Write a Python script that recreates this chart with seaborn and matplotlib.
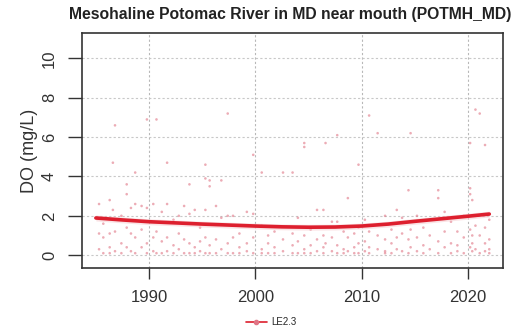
import numpy as np
import pandas as pd
import matplotlib
matplotlib.use("Agg")
import matplotlib.pyplot as plt
from matplotlib.lines import Line2D
import seaborn as sns

title = "Mesohaline Potomac River in MD near mouth (POTMH_MD)"
station = "LE2.3"

# sampling dates (decimal years) and DO readings (mg/L) at each date
sample_years = [1985.3, 1985.7, 1986.3, 1986.6, 1986.8, 1987.4, 1987.9, 1988.3, 1988.7, 1989.3,
                1989.8, 1990.4, 1990.7, 1991.2, 1991.7, 1992.3, 1992.8, 1993.3, 1993.8, 1994.3,
                1994.8, 1995.3, 1995.7, 1996.3, 1996.8, 1997.4, 1997.9, 1998.5, 1999.2, 1999.8,
                2000.6, 2001.2, 2001.8, 2002.6, 2003.5, 2004.0, 2004.6, 2005.2, 2005.8, 2006.4,
                2006.6, 2007.2, 2007.7, 2008.3, 2008.7, 2009.3, 2009.7, 2010.3, 2010.7, 2011.5,
                2012.2, 2012.8, 2013.3, 2013.8, 2014.4, 2014.6, 2015.2, 2015.8, 2016.4, 2017.2,
                2017.8, 2018.4, 2019.0, 2019.6, 2020.2, 2020.4, 2020.7, 2021.1, 2021.6, 2022.0]
sample_do = [[2.6, 1.1, 0.3], [1.6, 0.9, 0.1], [2.8, 1.1, 0.4, 0.1], [4.7, 2.3], [6.6, 1.2, 0.2],
             [2.0, 0.6, 0.1], [3.6, 3.1, 1.4, 0.4], [2.4, 1.1, 0.2], [4.2, 2.6, 0.9, 0.1], [2.5, 1.3, 0.4],
             [6.9, 2.4, 0.6, 0.1], [2.6, 0.9, 0.2], [6.9, 1.2, 0.1], [2.2, 0.7, 0.1], [4.7, 2.6, 0.9, 0.2],
             [1.8, 0.5, 0.1], [2.0, 1.1, 0.3], [2.5, 0.8, 0.1], [3.6, 2.1, 0.6, 0.1], [2.3, 0.4, 0.1],
             [1.4, 0.7, 0.2], [4.6, 3.9, 2.3, 0.9, 0.1], [3.5, 3.8, 0.5, 0.1], [2.5, 0.8, 0.1], [3.8, 1.9, 0.3],
             [7.2, 2.0, 0.6, 0.1], [2.0, 0.9, 0.1], [1.1, 0.4, 0.1], [2.2, 0.6, 0.2], [5.1, 2.1, 0.9, 0.1],
             [4.2, 1.5, 0.3, 0.1], [1.0, 0.6, 0.1], [1.2, 0.4, 0.1], [4.2, 0.8, 0.2], [4.2, 1.1, 0.5, 0.1],
             [1.9, 0.7, 0.1], [5.7, 5.5, 1.0, 0.3, 0.1], [1.3, 0.5, 0.1], [2.3, 0.8, 0.2], [2.3, 1.0, 0.4, 0.1],
             [5.7, 0.6], [1.7, 0.9, 0.2], [6.1, 1.7, 0.5, 0.1], [1.2, 0.3, 0.1], [2.9, 0.9, 0.2],
             [1.1, 0.4, 0.1], [4.6, 1.4, 0.6, 0.1], [1.8, 0.7, 0.2], [7.1, 1.2, 0.4, 0.1], [6.2, 1.0, 0.3],
             [2.0, 0.8, 0.2, 0.1], [1.3, 0.6, 0.1], [2.3, 0.9, 0.3], [1.9, 1.1, 0.2], [3.3, 0.8, 0.1],
             [6.2, 1.3, 0.4], [2.0, 0.9, 0.2], [1.4, 0.5, 0.1], [1.8, 1.0, 0.3], [3.3, 2.9, 0.7, 0.1],
             [2.2, 1.2, 0.4], [1.7, 0.6, 0.1], [1.2, 0.5, 0.2], [2.0, 0.9, 0.1], [5.7, 3.4, 3.1, 1.3, 0.4],
             [2.8, 1.0, 0.6, 0.2], [7.4, 1.5, 0.3], [7.2, 1.0, 0.1], [5.6, 1.4, 0.6, 0.2], [1.8, 0.8, 0.3, 0.1]]

# fitted trend
trend_years = [1985, 1987.5, 1990, 1992.5, 1995, 1997.5, 2000, 2002.5, 2005, 2007.5,
               2010, 2012.5, 2015, 2017.5, 2020, 2022]
trend_do = [1.89, 1.79, 1.70, 1.64, 1.58, 1.53, 1.48, 1.44, 1.42, 1.43,
            1.48, 1.58, 1.72, 1.85, 1.98, 2.09]

x_ticks = [1990, 2000, 2010, 2020]
y_ticks = [0, 2, 4, 6, 8, 10]

rows = [(yr, v) for yr, vals in zip(sample_years, sample_do) for v in vals]
pts = pd.DataFrame(rows, columns=["year", "do"])
trend = pd.DataFrame({"year": trend_years, "do": trend_do})

sns.set_theme(style="white")
plt.rcParams["font.family"] = ["Liberation Sans", "DejaVu Sans"]

fig = plt.figure(figsize=(5.16, 3.29), dpi=100)
ax = fig.add_axes([0.159, 0.185, 0.816, 0.715])

for xv in x_ticks:
    ax.axvline(xv, color="#b8b8b8", lw=0.8, ls=(0, (2, 2)), zorder=0)
for yv in y_ticks:
    ax.axhline(yv, color="#c8c8c8", lw=0.8, ls=(0, (2, 2)), zorder=0)

sns.scatterplot(data=pts, x="year", y="do", ax=ax, s=3.5, color="#e07585",
                edgecolor="none", alpha=0.6, legend=False, zorder=2)
ax.fill_between(trend["year"], trend["do"] - 0.15, trend["do"] + 0.15,
                color="#f6c8cc", alpha=0.5, lw=0, zorder=2)
sns.lineplot(data=trend, x="year", y="do", ax=ax, color="#dd1f2e", lw=2.6,
             legend=False, zorder=3)

ax.set_xlim(1983.7, 2023.3)
ax.set_ylim(-0.66, 11.3)
ax.set_xticks(x_ticks)
ax.set_yticks(y_ticks)
ax.set_xticklabels([str(v) for v in x_ticks], fontsize=12, color="#333333")
ax.set_yticklabels([str(v) for v in y_ticks], fontsize=12, color="#333333",
                   rotation=90, va="center")
ax.tick_params(axis="x", direction="out", length=8, width=1.0, color="#333333",
               bottom=True, pad=8)
ax.tick_params(axis="y", direction="out", length=10, width=1.0, color="#333333",
               left=True, pad=8)
ax.set_xlabel("")
ax.set_ylabel("DO (mg/L)", fontsize=13, color="#333333", labelpad=3)
for sp in ax.spines.values():
    sp.set_visible(True)
    sp.set_color("#333333")
    sp.set_linewidth(1.2)

fig.text(0.563, 0.955, title, ha="center", va="center", fontsize=11.3,
         fontweight="bold", color="#222222")

handle = Line2D([0], [0], color="#dd1f2e", lw=1.2, marker="o", markersize=3,
                markerfacecolor="#e07585", markeredgecolor="#e07585")
fig.legend([handle], [station], loc="center", bbox_to_anchor=(0.525, 0.02),
           frameon=False, fontsize=7, handlelength=2.2, handletextpad=0.4)

fig.savefig("out.png", dpi=100)
